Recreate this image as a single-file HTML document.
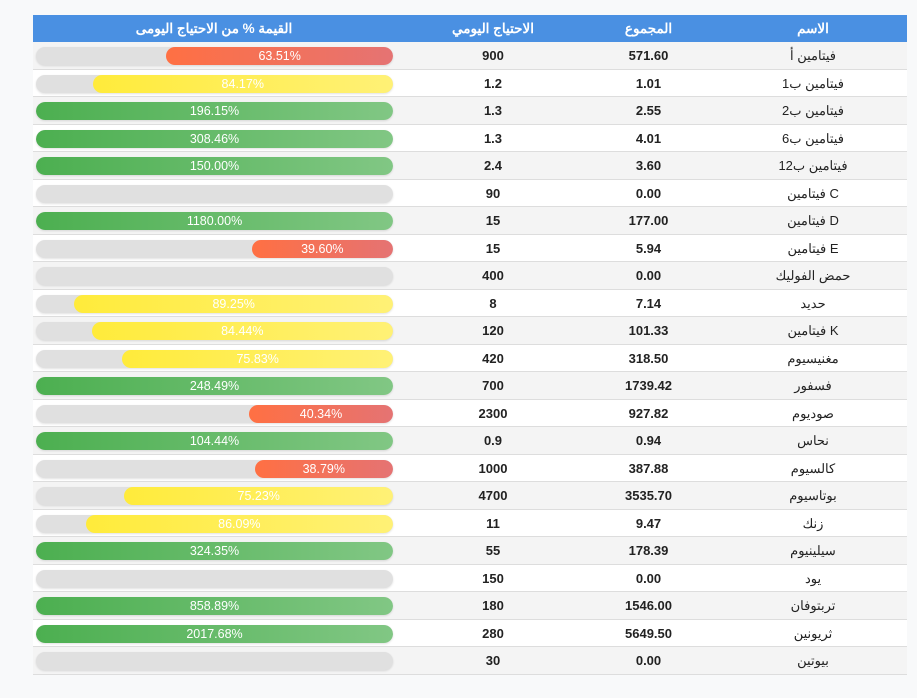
<!DOCTYPE html>
<html><head><meta charset="utf-8"><style>
body{margin:0;background:#f8f9fa;width:917px;height:698px;overflow:hidden;font-family:"Liberation Sans","Noto Sans CJK SC",sans-serif;}
#tbl{position:absolute;left:32px;top:15px;width:874px;border-left:1px solid #999;}
.hdr{position:absolute;left:0;top:0;width:874px;height:27px;background:#4a90e2;color:#fff;font-weight:bold;font-size:13.5px;}
.cell{position:absolute;text-align:center;line-height:27px;}
.row{position:absolute;left:0;width:874px;height:27.5px;border-bottom:1px solid #ddd;box-sizing:border-box;font-size:13px;color:#222;}
.track{position:absolute;left:3px;top:5px;width:357px;height:18px;border-radius:9px;background:#e0e0e0;box-shadow:0 1px 2px rgba(0,0,0,.12);overflow:hidden;}
.fill{position:absolute;right:0;top:0;height:18px;border-radius:9px;color:#fff;font-size:12.5px;line-height:18px;text-align:center;}
</style></head><body>
<div id="tbl">
<div class="hdr">
<div class="cell" style="left:0;width:362px">القيمة % من الاحتياج اليومى</div>
<div class="cell" style="left:380px;width:160px">الاحتياج اليومي</div>
<div class="cell" style="left:538px;width:155px">المجموع</div>
<div class="cell" style="left:700px;width:160px">الاسم</div>
</div>
</div>
<script>
const names=["فيتامين أ","فيتامين ب1","فيتامين ب2","فيتامين ب6","فيتامين ب12","فيتامين C","فيتامين D","فيتامين E","حمض الفوليك","حديد","فيتامين K","مغنيسيوم","فسفور","صوديوم","نحاس","كالسيوم","بوتاسيوم","زنك","سيلينيوم","يود","تربتوفان","ثريونين","بيوتين"];
const totals=["571.60","1.01","2.55","4.01","3.60","0.00","177.00","5.94","0.00","7.14","101.33","318.50","1739.42","927.82","0.94","387.88","3535.70","9.47","178.39","0.00","1546.00","5649.50","0.00"];
const daily=["900","1.2","1.3","1.3","2.4","90","15","15","400","8","120","420","700","2300","0.9","1000","4700","11","55","150","180","280","30"];
const pcts=[63.51,84.17,196.15,308.46,150.00,0,1180.00,39.60,0,89.25,84.44,75.83,248.49,40.34,104.44,38.79,75.23,86.09,324.35,0,858.89,2017.68,0];
const tbl=document.getElementById('tbl');
const trackW=357;
function xScale(p){return Math.min(p,100)/100*trackW;}
function color(p){if(p>=100)return 'linear-gradient(90deg,#4caf50,#81c784)';if(p>=70)return 'linear-gradient(90deg,#ffeb3b,#fff176)';return 'linear-gradient(90deg,#ff7043,#e57373)';}
names.forEach((n,i)=>{
 const r=document.createElement('div');
 r.className='row';
 
 
 r.style.top=(27+i*27.5)+'px';
 r.style.background=i%2===0?'#f4f4f4':'#fff';
 const tr=document.createElement('div');tr.className='track';
 
 
 const p=pcts[i];
 if(p>0){
  const f=document.createElement('div');f.className='fill';
  
  
  f.style.width=xScale(p)+'px';f.style.background=color(p);
  f.textContent=p.toFixed(2)+'%';tr.appendChild(f);
 }
 r.appendChild(tr);
 const mk=(txt,l,w,b,nm)=>{const c=document.createElement('div');c.className='cell';c.style.left=l+'px';c.style.width=w+'px';c.style.fontWeight=b?'bold':'normal';c.textContent=txt;
  
  
  r.appendChild(c);};
 mk(daily[i],380,160,true,'daily-value');
 mk(totals[i],538,155,true,'total-value');
 mk(n,700,160,false,'nutrient-name');
 tbl.appendChild(r);
});
</script>
</body></html>
